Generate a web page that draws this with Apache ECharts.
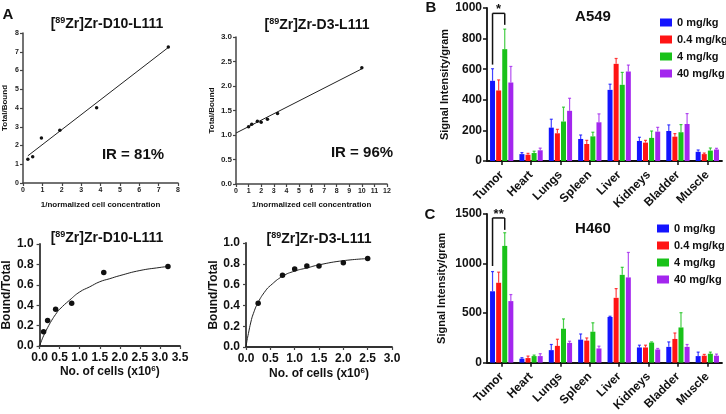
<!DOCTYPE html>
<html><head><meta charset="utf-8">
<script src="https://cdn.jsdelivr.net/npm/echarts@6/dist/echarts.min.js"></script>
<style>html,body{margin:0;padding:0;background:#fff}#c{width:726px;height:414px}</style>
</head><body><div id="c"></div>
<script>
const FONT = '"Liberation Sans", Arial, sans-serif';
// ---- Panel A data ----
const d10Scatchard = [[0.25,1.27],[0.5,1.4],[0.95,2.4],[1.9,2.82],[3.8,4.02],[7.5,7.25]];
const d10ScatchardFit = [[0.25,1.45],[7.5,7.23]];
const d3Scatchard = [[1,1.17],[1.25,1.22],[1.7,1.28],[2,1.26],[2.5,1.32],[3.3,1.44],[10,2.37]];
const d3ScatchardFit = [[0,1.04],[10,2.35]];
const d10Binding = [[0.1,0.14],[0.2,0.25],[0.4,0.36],[0.8,0.42],[1.6,0.72],[3.2,0.78]];
const d10BindingFit = [[0,0],[0.05,0.053],[0.1,0.1],[0.2,0.18],[0.3,0.25],[0.4,0.31],[0.5,0.36],[0.75,0.45],[1.0,0.53],[1.25,0.58],[1.5,0.63],[1.75,0.66],[2.0,0.69],[2.5,0.74],[3.0,0.77],[3.2,0.78]];
const d3Binding = [[0.25,0.42],[0.75,0.69],[1.0,0.75],[1.25,0.78],[1.5,0.78],[2.0,0.81],[2.5,0.85]];
const d3BindingFit = [[0,0],[0.02,0.06],[0.05,0.13],[0.1,0.24],[0.15,0.32],[0.25,0.43],[0.4,0.54],[0.5,0.59],[0.75,0.68],[1.0,0.73],[1.25,0.76],[1.5,0.79],[2.0,0.83],[2.5,0.85]];
// ---- Panels B/C data ----
const organs = ['Tumor','Heart','Lungs','Spleen','Liver','Kidneys','Bladder','Muscle'];
const doses = ['0 mg/kg','0.4 mg/kg','4 mg/kg','40 mg/kg'];
const a549_0   = [524,45,218,144,465,131,196,60];
const a549_0e  = [603,55,273,170,502,155,236,72];
const a549_04  = [461,41,181,111,635,120,159,45];
const a549_04e = [530,50,207,135,670,135,179,52];
const a549_4   = [731,52,258,161,498,151,188,68];
const a549_4e  = [862,64,352,188,579,196,238,85];
const a549_40  = [513,70,328,253,585,192,242,75];
const a549_40e = [618,84,410,308,627,220,310,83];
const h460_0   = [720,40,126,232,461,153,159,66];
const h460_0e  = [919,50,183,289,468,176,209,106];
const h460_04  = [806,46,169,222,654,153,239,70];
const h460_04e = [913,66,236,249,747,176,299,83];
const h460_4   = [1178,66,342,312,886,202,355,90];
const h460_4e  = [1311,76,441,402,962,209,504,106];
const h460_40  = [621,66,199,143,860,133,159,70];
const h460_40e = [687,90,216,166,1112,143,183,86];

const COLORS = ['#1414ff','#ff1414','#19c219','#a326ee'];
const BAR_W = 5, BAR_GAP = 0.22, STEP = BAR_W*(1+BAR_GAP);

const chart = echarts.init(document.getElementById('c'));

const grids = [
  {left:23, top:33, width:155, height:150},
  {left:236, top:37, width:151, height:147},
  {left:35, top:244, width:145, height:102},
  {left:246, top:243, width:146, height:104},
  {left:487, top:8, width:235, height:153},
  {left:487, top:214, width:235, height:151}
];

function axLine(color, w){ return {show:true, lineStyle:{color:color, width:w}}; }
function valAxis(gi, min, max, interval, o){
  return Object.assign({
    type:'value', gridIndex:gi, min:min, max:max, interval:interval,
    splitLine:{show:false},
    axisLine:axLine('#444',1.5),
    axisTick:{show:true, inside:false, length:3, lineStyle:{color:'#444', width:1.2}},
    axisLabel:{fontFamily:FONT, fontWeight:'bold', fontSize:7, color:'#222', margin:4},
    nameLocation:'middle',
    nameTextStyle:{fontFamily:FONT, fontWeight:'bold', fontSize:8, color:'#111'}
  }, o||{});
}
const fix1 = v => v.toFixed(1);
const plain = v => String(v);
const bigLabel = {fontFamily:FONT, fontWeight:'bold', fontSize:12, color:'#111', margin:6, formatter:fix1};
const cellsName = '{a|No. of cells (x10}{b|6}{a|)}';
const cellsStyle = {fontFamily:FONT, fontWeight:'bold', fontSize:12, color:'#111',
  rich:{a:{fontFamily:FONT, fontWeight:'bold', fontSize:12, color:'#111'}, b:{fontFamily:FONT, fontWeight:'bold', fontSize:8, color:'#111', verticalAlign:'top', padding:[0,0,6,0]}}};

const catAxis = gi => ({type:'category', gridIndex:gi, data:organs, axisLine:axLine('#111',1.8),
   axisTick:{show:true, alignWithLabel:true, length:4, lineStyle:{color:'#111', width:1.5}},
   axisLabel:{fontFamily:FONT, fontWeight:'bold', fontSize:12, color:'#111', rotate:45, margin:12, interval:0}});
const xAxes = [
  valAxis(0,0,8,1,{name:'1/normalized cell concentration', nameGap:18}),
  valAxis(1,0,12,1,{name:'1/normalized cell concentration', nameGap:17}),
  valAxis(2,0,3.5,0.5,{name:cellsName, nameGap:18, nameTextStyle:cellsStyle, axisLabel:bigLabel, axisLine:axLine('#333',1.8)}),
  valAxis(3,0,3,0.5,{name:cellsName, nameGap:20, nameTextStyle:cellsStyle, axisLabel:bigLabel, axisLine:axLine('#333',1.8)}),
  catAxis(4), catAxis(5)
];
const bcLabel = {fontFamily:FONT, fontWeight:'bold', fontSize:12, color:'#111', margin:5, formatter:plain};
const bcName = {fontFamily:FONT, fontWeight:'bold', fontSize:11, color:'#111'};
const yAxes = [
  valAxis(0,0,8,1,{name:'Total/Bound', nameGap:14}),
  valAxis(1,0,3,0.5,{name:'Total/Bound', nameGap:20, axisLabel:{fontFamily:FONT, fontWeight:'bold', fontSize:8, color:'#222', margin:4, formatter:fix1}}),
  valAxis(2,0,1,0.2,{name:'Bound/Total', nameGap:22, axisLabel:bigLabel, axisLine:axLine('#333',1.8), nameTextStyle:{fontFamily:FONT, fontWeight:'bold', fontSize:12, color:'#111'}}),
  valAxis(3,0,1,0.2,{name:'Bound/Total', nameGap:23, axisLabel:bigLabel, axisLine:axLine('#333',1.8), nameTextStyle:{fontFamily:FONT, fontWeight:'bold', fontSize:12, color:'#111'}}),
  valAxis(4,0,1000,200,{name:'Signal Intensity/gram', nameGap:37, axisLabel:bcLabel, nameTextStyle:bcName, axisLine:axLine('#111',1.8), axisTick:{show:true,length:4,lineStyle:{color:'#111',width:1.5}}}),
  valAxis(5,0,1500,500,{name:'Signal Intensity/gram', nameGap:40, axisLabel:bcLabel, nameTextStyle:bcName, axisLine:axLine('#111',1.8), axisTick:{show:true,length:4,lineStyle:{color:'#111',width:1.5}}})
];

function scatter(gi, data, size){ return {type:'scatter', xAxisIndex:gi, yAxisIndex:gi, data:data, symbolSize:size, itemStyle:{color:'#111', opacity:1}, z:4, clip:false}; }
function fit(gi, data, smooth){ return {type:'line', xAxisIndex:gi, yAxisIndex:gi, data:data, showSymbol:false, symbol:'none', smooth:smooth, lineStyle:{color:'#222', width:1}, z:3}; }
function bar(gi, name, data, i){ return {type:'bar', name:name, xAxisIndex:gi, yAxisIndex:gi, data:data, barWidth:BAR_W, barGap:(BAR_GAP*100)+'%', itemStyle:{color:COLORS[i]}, z:2}; }
function err(gi, means, tops, i){
  return {type:'custom', name:'err'+gi+'_'+i, xAxisIndex:gi, yAxisIndex:gi, z:1,
    data: means.map((m,k)=>[k,m,tops[k]]), encode:{x:0, y:[1,2]},
    renderItem:(p,api)=>{
      const k = api.value(0);
      const a = api.coord([k, api.value(1)]), b = api.coord([k, api.value(2)]);
      const x = a[0] + (i-1.5)*STEP;
      return {type:'group', children:[
        {type:'line', shape:{x1:x,y1:a[1],x2:x,y2:b[1]}, style:{stroke:COLORS[i], lineWidth:1.2, opacity:0.8}},
        {type:'line', shape:{x1:x-1.5,y1:b[1],x2:x+1.5,y2:b[1]}, style:{stroke:COLORS[i], lineWidth:1.2, opacity:0.8}}
      ]};
    }};
}
const a549 = [[a549_0,a549_0e],[a549_04,a549_04e],[a549_4,a549_4e],[a549_40,a549_40e]];
const h460 = [[h460_0,h460_0e],[h460_04,h460_04e],[h460_4,h460_4e],[h460_40,h460_40e]];
const series = [
  fit(0, d10ScatchardFit, false), scatter(0, d10Scatchard, 3.5),
  fit(1, d3ScatchardFit, false), scatter(1, d3Scatchard, 3.5),
  fit(2, d10BindingFit, true), scatter(2, d10Binding, 5.5),
  fit(3, d3BindingFit, true), scatter(3, d3Binding, 5.5)
];
a549.forEach((d,i)=>{ series.push(bar(4, doses[i], d[0], i)); series.push(err(4, d[0], d[1], i)); });
h460.forEach((d,i)=>{ series.push(bar(5, doses[i], d[0], i)); series.push(err(5, d[0], d[1], i)); });

const legendBase = {orient:'vertical', data:doses, selectedMode:false, icon:'rect', itemWidth:12, itemHeight:8, itemGap:6,
  textStyle:{fontFamily:FONT, fontWeight:'bold', fontSize:11, color:'#111', lineHeight:11}};

chart.setOption({
  animation:false, backgroundColor:'#fff',
  grid:grids, xAxis:xAxes, yAxis:yAxes, series:series,
  legend:[Object.assign({left:655, top:12}, legendBase), Object.assign({left:652, top:218}, legendBase)]
});

function txt(t, x, y, size){ return {type:'text', silent:true, style:{text:t, x:x, y:y, align:'center', verticalAlign:'middle', fontFamily:FONT, fontWeight:'bold', fontSize:size, fill:'#111'}}; }
function supTitle(name, x, y){
  return {type:'text', silent:true, style:{text:'{s|[}{p|89}{s|Zr]Zr-' + name + '}', x:x, y:y, align:'center', verticalAlign:'middle',
    rich:{s:{fontFamily:FONT, fontWeight:'bold', fontSize:14, fill:'#111', lineHeight:16}, p:{fontFamily:FONT, fontWeight:'bold', fontSize:9, fill:'#111', verticalAlign:'top', lineHeight:16, padding:[0,0,0,0]}}}};
}
function line(x1,y1,x2,y2){ return {type:'line', silent:true, shape:{x1:x1,y1:y1,x2:x2,y2:y2}, style:{stroke:'#111', lineWidth:1.5}}; }
const P = (g,c,v)=>chart.convertToPixel({gridIndex:g}, [c,v]);
const bC = P(4,0,0)[0], bL = bC-1.5*STEP, bR = bC+0.5*STEP;
const bTop = P(4,0,965)[1], bLb = P(4,0,630)[1], bRb = P(4,0,890)[1];
const cC = P(5,0,0)[0], cL = cC-1.5*STEP, cR = cC+0.5*STEP;
const cTop = P(5,0,1460)[1], cLb = P(5,0,975)[1], cRb = P(5,0,1340)[1];

chart.setOption({graphic:{elements:[
  txt('A', 8, 15, 15), txt('B', 431, 8, 15), txt('C', 430, 215, 15),
  supTitle('D10-L111', 107, 24), supTitle('D3-L111', 317, 25),
  supTitle('D10-L111', 107, 238), supTitle('D3-L111', 319, 239),
  txt('IR = 81%', 133, 155, 15), txt('IR = 96%', 362, 153, 15),
  txt('A549', 593, 17, 15), txt('H460', 593, 229, 15),
  line(bL,bLb,bL,bTop), line(bL,bTop,bR,bTop), line(bR,bTop,bR,bRb),
  txt('*', (bL+bR)/2, bTop-4, 13),
  line(cL,cLb,cL,cTop), line(cL,cTop,cR,cTop), line(cR,cTop,cR,cRb),
  txt('**', (cL+cR)/2, cTop-4, 13)
]}});
</script></body></html>
